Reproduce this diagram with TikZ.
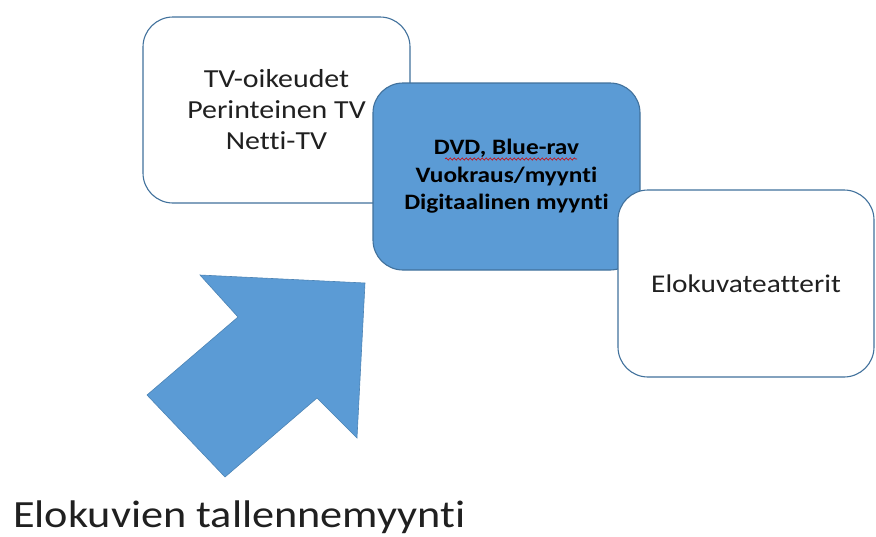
\documentclass[tikz,border=0pt]{standalone}
\usepackage{fontspec}
\setmainfont{Carlito}[FakeStretch=1.15, Ligatures={NoCommon}]
\usetikzlibrary{decorations.pathmorphing}
\definecolor{fillblue}{HTML}{5B9BD5}
\definecolor{edgeblue}{HTML}{41719C}
\definecolor{inkgray}{HTML}{202020}
\tikzset{
  card/.style={draw=edgeblue, line width=1.1pt, rounded corners=30pt,
    inner sep=0pt, align=center, text=inkgray},
  whitecard/.style={card, fill=white},
  bluecard/.style={card, fill=fillblue, text=black},
  bigarrow/.style={fill=fillblue, draw=fillblue!85!black, line width=0.6pt, line join=miter},
  spellmark/.style={draw=red!85!black, line width=0.6pt, decorate,
    decoration={snake, amplitude=1.1pt, segment length=4pt}},
}
\begin{document}
\begin{tikzpicture}[x=1pt, y=-1pt]
  \useasboundingbox (0,0) rectangle (876,536);

  % rights and television box
  \node[whitecard, minimum width=267pt, minimum height=186pt,
        font=\fontsize{26}{31}\selectfont] (tv) at (276.5,110)
        {TV-oikeudet\\Perinteinen TV\\Netti-TV};

  % home video box
  \node[bluecard, minimum width=267pt, minimum height=187pt,
        font=\fontsize{22}{27.5}\selectfont\bfseries] (dvd) at (506.5,176.5)
        {DVD, Blue-rav\\Vuokraus/myynti\\Digitaalinen myynti};
  \coordinate (wavyA) at (445,159);
  \coordinate (wavyB) at (577,159);
  \path[spellmark] (wavyA) -- (wavyB);

  % cinema box
  \node[whitecard, minimum width=256pt, minimum height=187pt,
        font=\fontsize{25.5}{30}\selectfont] (cinema) at (746,283.5)
        {Elokuvateatterit};

  % block arrow pointing up and right
  \path[bigarrow] (147,395) -- (238,317) -- (200,275) -- (365,283)
        -- (357,438) -- (317,398) -- (225,477) -- cycle;

  % caption
  \node[anchor=base west, inner sep=0pt, text=inkgray,
        font=\fontsize{38.5}{44}\selectfont] (caption) at (13,527)
        {Elokuvien tallennemyynti};
\end{tikzpicture}
\end{document}
